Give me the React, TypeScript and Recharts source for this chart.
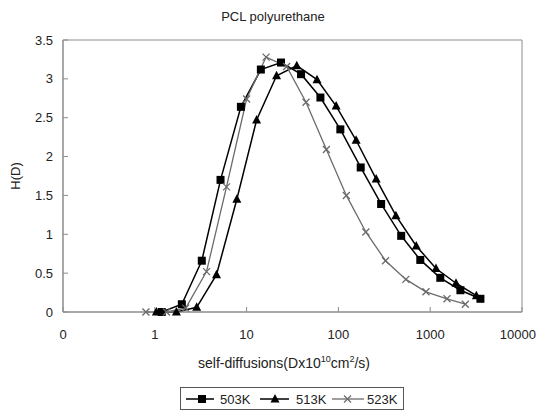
import React from 'react';
import { LineChart, Line, XAxis, YAxis, ReferenceArea } from 'recharts';

// self-diffusion coefficient (x10^10 cm2/s) and H(D) for each temperature
const d503 = [1.19, 1.97, 3.25, 5.2, 8.67, 14.3, 23.7, 39.2, 63.7, 105, 175, 292, 483, 780, 1288, 2133, 3524];
const h503 = [0, 0.1, 0.66, 1.7, 2.64, 3.12, 3.21, 3.06, 2.76, 2.35, 1.86, 1.39, 0.98, 0.67, 0.44, 0.28, 0.17];

const d513 = [1.04, 1.72, 2.86, 4.7, 7.83, 12.85, 21.2, 35.2, 58.5, 94.5, 156, 258, 423, 705, 1156, 1910, 3184];
const h513 = [0, 0, 0.06, 0.48, 1.45, 2.47, 3.04, 3.17, 2.99, 2.65, 2.21, 1.71, 1.24, 0.85, 0.56, 0.37, 0.21];

const d523 = [0.8, 1.34, 2.17, 3.66, 6.04, 10.0, 16.3, 27.3, 44.4, 74, 122, 199, 326, 543, 899, 1524, 2415];
const h523 = [0, 0, 0.05, 0.52, 1.61, 2.74, 3.28, 3.16, 2.7, 2.09, 1.5, 1.03, 0.66, 0.42, 0.26, 0.17, 0.1];

const xTicks = [0.1, 1, 10, 100, 1000, 10000];
const yTicks = [0, 0.5, 1, 1.5, 2, 2.5, 3, 3.5];

const toPoints = (xs: number[], ys: number[]) => xs.map((x, i) => ({ x, y: ys[i] }));

const FONT = '"Liberation Sans", Arial, sans-serif';
const FRAME = '#8c8c8c';
const GREY = '#6b6b6b';

const SquareDot = (p: any) => {
  if (p.cx == null || p.cy == null) return null;
  return <rect key={`s${p.index}`} x={p.cx - 4} y={p.cy - 4} width={8} height={8} fill="#000" />;
};

const TriangleDot = (p: any) => {
  if (p.cx == null || p.cy == null) return null;
  const { cx, cy } = p;
  return <polygon key={`t${p.index}`} points={`${cx},${cy - 5} ${cx + 4.5},${cy + 3.5} ${cx - 4.5},${cy + 3.5}`} fill="#000" />;
};

const CrossDot = (p: any) => {
  if (p.cx == null || p.cy == null) return null;
  const { cx, cy } = p;
  return (
    <g key={`x${p.index}`} stroke={GREY} strokeWidth={1.3}>
      <line x1={cx - 3.5} y1={cy - 3.5} x2={cx + 3.5} y2={cy + 3.5} />
      <line x1={cx - 3.5} y1={cy + 3.5} x2={cx + 3.5} y2={cy - 3.5} />
    </g>
  );
};

// log axis: first tick (0.1) is shown as "0", last label is pulled in so it fits
const XTick = (p: any) => {
  const v = p.payload.value;
  const label = v < 1 ? '0' : String(v);
  const last = v === xTicks[xTicks.length - 1];
  return (
    <text
      x={last ? 536 : p.x}
      y={p.y}
      dy="0.71em"
      textAnchor={last ? 'end' : 'middle'}
      fontSize={13}
      fill="#222"
      fontFamily={FONT}
    >
      {label}
    </text>
  );
};

const XLabel = () => (
  <text x={284} y={368} textAnchor="middle" fontSize={14} fill="#222" fontFamily={FONT}>
    <tspan>self-diffusions(Dx10</tspan>
    <tspan dy={-6} fontSize={9}>10</tspan>
    <tspan dy={6}>cm</tspan>
    <tspan dy={-6} fontSize={9}>2</tspan>
    <tspan dy={6}>/s)</tspan>
  </text>
);

const YLabel = () => (
  <text x={15} y={176} transform="rotate(-90 15 176)" textAnchor="middle" dominantBaseline="central" fontSize={13} fill="#222" fontFamily={FONT}>
    H(D)
  </text>
);

const LegendBox = () => (
  <div
    style={{
      position: 'absolute', left: 180, top: 387, width: 224, height: 23,
      border: '1px solid #555', boxSizing: 'border-box', background: '#fff',
    }}
  >
    <svg width={222} height={21}>
      <g fontFamily={FONT} fontSize={13} fill="#222">
        <line x1={5} y1={11} x2={33} y2={11} stroke="#000" strokeWidth={1.5} />
        <rect x={17} y={7} width={8} height={8} fill="#000" />
        <text x={39} y={15.5}>503K</text>
        <line x1={79} y1={11} x2={108} y2={11} stroke="#000" strokeWidth={1.5} />
        <polygon points="94,6 98.5,14.5 89.5,14.5" fill="#000" />
        <text x={115} y={15.5}>513K</text>
        <line x1={151} y1={11} x2={183} y2={11} stroke={GREY} strokeWidth={1.3} />
        <g stroke={GREY} strokeWidth={1.3}>
          <line x1={163} y1={7.5} x2={170} y2={14.5} />
          <line x1={163} y1={14.5} x2={170} y2={7.5} />
        </g>
        <text x={186} y={15.5}>523K</text>
      </g>
    </svg>
  </div>
);

export default function App() {
  return (
    <div style={{ position: 'absolute', left: 0, top: 0, width: 538, height: 412, background: '#fff', fontFamily: FONT }}>
      <div style={{ position: 'absolute', left: 0, top: 9, width: 546, textAlign: 'center', fontSize: 13, color: '#222' }}>
        PCL polyurethane
      </div>
      <LineChart width={538} height={412} margin={{ top: 40, right: 16, left: 0, bottom: 0 }}>
        <XAxis
          type="number"
          dataKey="x"
          scale="log"
          domain={[0.1, 10000]}
          ticks={xTicks}
          allowDataOverflow
          height={100}
          stroke={FRAME}
          tickSize={-5}
          tickMargin={23}
          tick={<XTick />}
          label={<XLabel />}
        />
        <YAxis
          type="number"
          dataKey="y"
          domain={[0, 3.5]}
          ticks={yTicks}
          width={63}
          stroke={FRAME}
          tickSize={-5}
          tickMargin={15}
          tick={{ fill: '#222', fontSize: 13, fontFamily: FONT }}
          label={<YLabel />}
        />
        <ReferenceArea x1={0.1} x2={10000} y1={0} y2={3.5} fill="none" stroke={FRAME} strokeWidth={1} ifOverflow="visible" />
        <Line data={toPoints(d503, h503)} dataKey="y" name="503K" stroke="#000" strokeWidth={1.5} dot={SquareDot} isAnimationActive={false} />
        <Line data={toPoints(d513, h513)} dataKey="y" name="513K" stroke="#000" strokeWidth={1.5} dot={TriangleDot} isAnimationActive={false} />
        <Line data={toPoints(d523, h523)} dataKey="y" name="523K" stroke={GREY} strokeWidth={1.3} dot={CrossDot} isAnimationActive={false} />
      </LineChart>
      <LegendBox />
    </div>
  );
}
